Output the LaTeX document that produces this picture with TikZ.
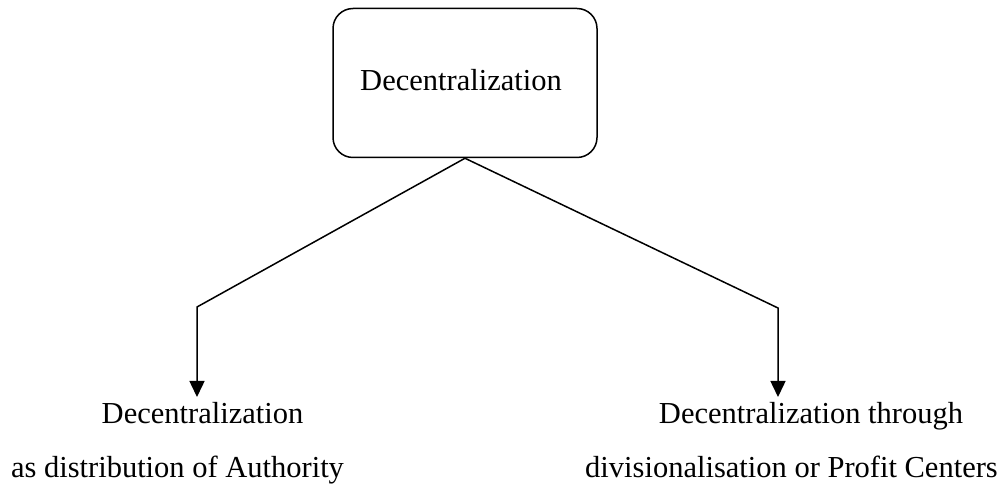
\documentclass[tikz,border=0pt]{standalone}
\usepackage{fontspec}
\setmainfont{Liberation Serif}
\usetikzlibrary{arrows.meta}
\begin{document}
\begin{tikzpicture}[x=1pt,y=-1pt,
  line width=1.5pt,
  every node/.style={font=\fontsize{30.5}{36}\selectfont},
  rootbox/.style={draw,rounded corners=20pt,minimum width=264pt,minimum height=149pt,inner sep=0pt},
  label/.style={inner sep=0pt,anchor=base},
  link/.style={-{Triangle[width=15pt,length=16pt]}}]
  \useasboundingbox (0,0) rectangle (1005,486);
  % root node
  \node[rootbox] (root) at (465,83) {};
  \node[label] (roottext) at (461,91) {Decentralization};
  % bends of the two branches
  \coordinate (lbend) at (197,307);
  \coordinate (rbend) at (778,308);
  \coordinate (ltip) at (197,397);
  \coordinate (rtip) at (778,397);
  % branch labels
  \node[label] (l1) at (202.5,424) {Decentralization};
  \node[label] (l2) at (177.5,478) {as distribution of Authority};
  \node[label] (r1) at (811,424) {Decentralization through};
  \node[label] (r2) at (791.5,478) {divisionalisation or Profit Centers};
  % connectors
  \draw[link,line join=miter] (root.south) -- (lbend) -- (ltip);
  \draw[link,line join=miter] (root.south) -- (rbend) -- (rtip);
\end{tikzpicture}
\end{document}
